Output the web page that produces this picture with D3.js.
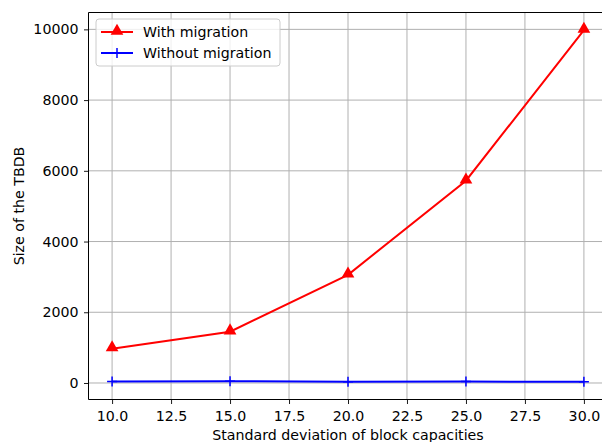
<!DOCTYPE html>
<html>
<head>
<meta charset="utf-8">
<script src="https://cdn.jsdelivr.net/npm/d3@7"></script>
<style>
  body { margin: 0; background: #fff; }
  text { font-family: "DejaVu Sans", sans-serif; }
</style>
</head>
<body>
<div id="chart"></div>
<script>
// data
var stdDevs = [10, 15, 20, 25, 30];
var withMigration = [970, 1450, 3060, 5720, 9980];
var withoutMigration = [40, 50, 35, 40, 35];
var xTicks = [10, 12.5, 15, 17.5, 20, 22.5, 25, 27.5, 30];
var yTicks = [0, 2000, 4000, 6000, 8000, 10000];

var FS = 14.2;
var W = 602, H = 442;
var margin = { top: 12.5, right: -5.5, bottom: 42.5, left: 88.5 };
var width = W - margin.left - margin.right,
    height = H - margin.top - margin.bottom;

var svg = d3.select("#chart")
    .append("svg")
    .attr("width", W)
    .attr("height", H);

var g = svg.append("g")
    .attr("transform", "translate(" + margin.left + "," + margin.top + ")");

var x = d3.scaleLinear().domain([9, 31]).range([0, width]);
var y = d3.scaleLinear().domain([-467, 10477]).range([height, 0]);

// grid
g.append("g").selectAll("line")
    .data(xTicks).enter().append("line")
    .attr("x1", d => x(d)).attr("x2", d => x(d))
    .attr("y1", 0).attr("y2", height)
    .attr("stroke", "#b0b0b0").attr("stroke-width", 1);
g.append("g").selectAll("line")
    .data(yTicks).enter().append("line")
    .attr("y1", d => y(d)).attr("y2", d => y(d))
    .attr("x1", 0).attr("x2", width)
    .attr("stroke", "#b0b0b0").attr("stroke-width", 1);

// axes
var xAxis = g.append("g")
    .attr("transform", "translate(0," + height + ")")
    .call(d3.axisBottom(x).tickValues(xTicks).tickFormat(d3.format(".1f")).tickSizeOuter(0).tickSize(4.5).tickPadding(5));
var yAxis = g.append("g")
    .call(d3.axisLeft(y).tickValues(yTicks).tickFormat(d => d).tickSizeOuter(0).tickSize(4.5).tickPadding(5.5));
[xAxis, yAxis].forEach(function(a) {
    a.select(".domain").remove();
    a.selectAll("text").attr("font-size", FS).attr("fill", "#000").style("font-family", "DejaVu Sans");
    a.selectAll("line").attr("stroke", "#000").attr("stroke-width", 0.9);
});
xAxis.selectAll("text").attr("dy", "0.85em");

// spines
g.append("line").attr("x1", 0).attr("x2", 0).attr("y1", 0).attr("y2", height).attr("stroke", "#000").attr("stroke-width", 1);
g.append("line").attr("x1", 0).attr("x2", width).attr("y1", height).attr("y2", height).attr("stroke", "#000").attr("stroke-width", 1);
g.append("line").attr("x1", 0).attr("x2", width).attr("y1", 0).attr("y2", 0).attr("stroke", "#000").attr("stroke-width", 1);
g.append("line").attr("x1", width).attr("x2", width).attr("y1", 0).attr("y2", height).attr("stroke", "#000").attr("stroke-width", 1);

var line = d3.line().x(d => x(d[0])).y(d => y(d[1]));
var redPts = stdDevs.map((d, i) => [d, withMigration[i]]);
var bluePts = stdDevs.map((d, i) => [d, withoutMigration[i]]);

g.append("path").datum(redPts).attr("d", line)
    .attr("fill", "none").attr("stroke", "red").attr("stroke-width", 2);
var tri = d3.symbol().type(d3.symbolTriangle).size(70);
g.selectAll(".tri").data(redPts).enter().append("path")
    .attr("d", tri)
    .attr("transform", d => "translate(" + x(d[0]) + "," + (y(d[1]) - 1) + ")")
    .attr("fill", "red");

g.append("path").datum(bluePts).attr("d", line)
    .attr("fill", "none").attr("stroke", "blue").attr("stroke-width", 2);
g.selectAll(".plus").data(bluePts).enter().append("path")
    .attr("d", d => "M" + (x(d[0]) - 5) + "," + y(d[1]) + "H" + (x(d[0]) + 5) +
        "M" + x(d[0]) + "," + (y(d[1]) - 5) + "V" + (y(d[1]) + 5))
    .attr("stroke", "blue").attr("stroke-width", 1.5);

// labels
svg.append("text")
    .attr("x", margin.left + width / 2).attr("y", 440)
    .attr("text-anchor", "middle").attr("font-size", FS)
    .text("Standard deviation of block capacities");
svg.append("text")
    .attr("transform", "translate(23.5," + (margin.top + height / 2) + ") rotate(-90)")
    .attr("text-anchor", "middle").attr("font-size", FS)
    .text("Size of the TBDB");

// legend
var leg = svg.append("g").attr("transform", "translate(96,19)");
leg.append("rect").attr("width", 184).attr("height", 47).attr("rx", 3)
    .attr("fill", "#fff").attr("fill-opacity", 0.8).attr("stroke", "#ccc").attr("stroke-width", 1);
var legItems = [
    { label: "With migration", color: "red", marker: "tri" },
    { label: "Without migration", color: "blue", marker: "plus" }
];
legItems.forEach(function(it, i) {
    var yy = 13 + i * 21;
    leg.append("line").attr("x1", 5).attr("x2", 37).attr("y1", yy).attr("y2", yy)
        .attr("stroke", it.color).attr("stroke-width", 2);
    if (it.marker == "tri") {
        leg.append("path").attr("d", tri).attr("transform", "translate(21," + (yy - 1) + ")").attr("fill", it.color);
    } else {
        leg.append("path").attr("d", "M16," + yy + "H26M21," + (yy - 5) + "V" + (yy + 5))
            .attr("stroke", it.color).attr("stroke-width", 1.5);
    }
    leg.append("text").attr("x", 47).attr("y", yy).attr("dy", "0.35em")
        .attr("font-size", FS).text(it.label);
});
</script>
</body>
</html>
